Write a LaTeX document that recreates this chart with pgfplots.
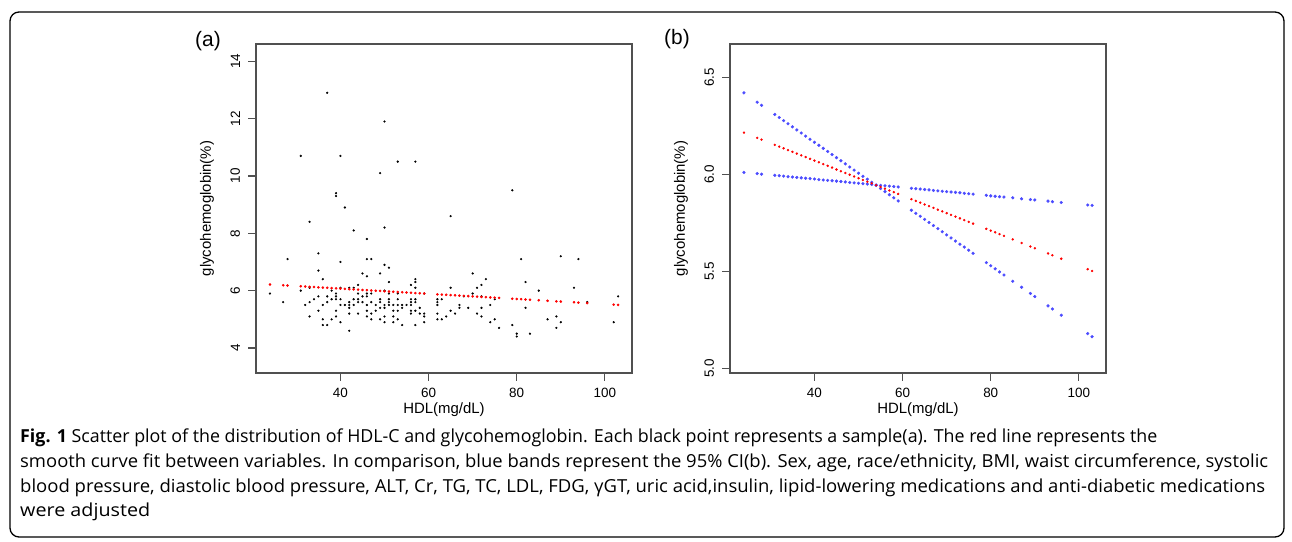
\documentclass[border=0pt]{standalone}
\usepackage{fontspec}
\setmainfont{Liberation Sans}
\newfontfamily\capfont{Open Sans}
\usepackage{graphicx}
\usepackage{pgfplots}
\pgfplotsset{compat=1.18}
\usepackage{pgfplotstable}

\definecolor{cibl}{RGB}{75,75,255}
\definecolor{axgray}{RGB}{80,80,80}

% HDL vs glycohemoglobin, one row per sample (panel a)
\pgfplotstableread{
x y
24 5.9
27 5.6
28 7.1
31 10.7
31 6.0
32 5.5
33 8.4
33 6.1
33 5.6
33 5.1
34 5.7
35 7.3
35 6.7
35 5.8
35 5.3
36 6.4
36 5.5
36 5.0
36 4.8
37 12.9
37 5.8
37 5.6
37 4.8
38 6.0
38 5.7
38 5.0
39 9.4
39 9.3
39 5.9
39 5.8
39 5.7
39 5.3
39 5.1
40 10.7
40 7.0
40 6.1
40 5.7
40 5.5
40 4.9
41 8.9
41 5.5
42 6.1
42 5.6
42 5.5
42 5.4
42 5.2
42 4.6
43 8.1
43 6.1
43 5.7
43 5.5
44 6.2
44 5.9
44 5.7
44 5.6
44 5.2
45 6.6
45 5.8
45 5.6
46 7.8
46 7.1
46 6.5
46 5.9
46 5.8
46 5.5
46 5.3
46 5.1
47 7.1
47 5.9
47 5.6
47 5.2
47 5.0
48 5.5
48 5.3
49 10.1
49 6.6
49 5.7
49 5.6
49 5.4
49 5.0
50 11.9
50 8.2
50 6.9
50 6.0
50 5.5
50 5.4
50 5.1
50 4.9
51 6.8
51 6.3
51 5.9
51 5.7
51 5.6
51 5.5
52 5.5
52 5.3
52 5.1
52 4.9
53 10.5
53 5.9
53 5.7
53 5.5
53 5.3
53 5.0
54 5.5
54 5.4
54 4.8
55 5.5
56 6.2
56 5.7
56 5.6
56 5.5
56 5.3
56 5.2
57 10.5
57 6.4
57 6.3
57 6.1
57 5.7
57 5.6
57 5.3
57 4.8
58 5.4
58 5.2
59 5.9
59 5.2
59 5.1
59 4.9
62 5.7
62 5.6
62 5.5
62 5.2
62 5.0
63 5.7
63 5.0
64 5.1
65 8.6
65 6.1
65 5.3
66 5.2
67 5.5
67 5.4
68 5.8
69 5.4
70 6.6
70 5.9
71 6.1
71 5.2
72 6.2
72 5.8
72 5.4
72 5.1
73 6.4
74 5.5
74 4.9
75 5.7
75 5.0
76 4.7
79 9.5
79 4.8
80 4.5
80 4.4
81 7.1
82 6.3
82 5.4
83 4.5
85 6.0
87 5.0
89 5.1
89 4.7
90 7.2
90 4.9
93 6.1
94 7.1
96 5.6
102 4.9
103 5.8
}\scatterdata

% smooth fit and 95% CI bounds at each observed HDL value
\pgfplotstableread{
x fit upper lower
24 6.215 6.420 6.010
27 6.188 6.372 6.004
28 6.179 6.356 6.001
31 6.152 6.309 5.995
32 6.143 6.293 5.993
33 6.134 6.277 5.991
34 6.125 6.261 5.988
35 6.116 6.245 5.986
36 6.107 6.229 5.984
37 6.098 6.213 5.982
38 6.089 6.197 5.980
39 6.080 6.181 5.978
40 6.071 6.165 5.976
41 6.062 6.150 5.973
42 6.053 6.134 5.971
43 6.044 6.118 5.969
44 6.035 6.102 5.967
45 6.025 6.086 5.965
46 6.016 6.070 5.963
47 6.007 6.054 5.961
48 5.998 6.038 5.958
49 5.989 6.022 5.956
50 5.980 6.006 5.954
51 5.971 5.990 5.952
52 5.962 5.975 5.950
53 5.953 5.959 5.948
54 5.944 5.943 5.945
55 5.935 5.927 5.943
56 5.926 5.911 5.941
57 5.917 5.895 5.939
58 5.908 5.879 5.937
59 5.899 5.863 5.935
62 5.872 5.815 5.928
63 5.863 5.799 5.926
64 5.854 5.784 5.924
65 5.845 5.768 5.922
66 5.836 5.752 5.920
67 5.827 5.736 5.917
68 5.818 5.720 5.915
69 5.809 5.704 5.913
70 5.800 5.688 5.911
71 5.791 5.672 5.909
72 5.782 5.656 5.907
73 5.773 5.640 5.905
74 5.764 5.625 5.902
75 5.755 5.609 5.900
76 5.746 5.593 5.898
79 5.719 5.545 5.892
80 5.710 5.529 5.889
81 5.701 5.513 5.887
82 5.692 5.497 5.885
83 5.683 5.481 5.883
85 5.665 5.449 5.879
87 5.646 5.418 5.874
89 5.628 5.386 5.870
90 5.619 5.370 5.868
93 5.592 5.322 5.862
94 5.583 5.306 5.859
96 5.565 5.274 5.855
102 5.511 5.179 5.842
103 5.502 5.163 5.840
}\fitdata

\pgfplotsset{
  hdlaxis/.style={
    scale only axis, width=376bp, height=329bp,
    xmin=20.84, xmax=106.16,
    xtick={40,60,80,100},
    axis line style={axgray, line width=1.1bp},
    every tick/.style={axgray, line width=1.1bp},
    tick align=outside, major tick length=7.7bp,
    xtick pos=bottom, ytick pos=left,
    /pgf/number format/assume math mode=true,
    tick label style={font=\fontsize{13.5}{15}\selectfont},
    label style={font=\fontsize{15}{18}\selectfont},
    yticklabel style={rotate=90, anchor=south, inner ysep=8bp},
    xticklabel style={anchor=north, inner ysep=7bp},
    xlabel={HDL(mg/dL)},
    ylabel={glycohemoglobin(\%)},
    xlabel style={at={(axis description cs:0.5,-0.112)}, anchor=center},
    ylabel style={at={(axis description cs:-0.13,0.5)}, anchor=center},
  },
}

\begin{document}
\begin{tikzpicture}[x=1bp, y=1bp]
\path[use as bounding box] (0,0) rectangle (1292,542);
\draw[line width=1.3bp, rounded corners=9bp] (10,5) rectangle (1284,530);

\begin{axis}[hdlaxis, at={(256bp,169bp)}, anchor=south west,
    ymin=3.128, ymax=14.603, ytick={4,6,8,10,12,14}]
\addplot[only marks, mark=*, mark size=0.9bp, black] table[x=x, y=y] {\scatterdata};
\addplot[only marks, mark=*, mark size=1.1bp, red] table[x=x, y=fit] {\fitdata};
\end{axis}

\begin{axis}[hdlaxis, at={(730bp,169bp)}, anchor=south west,
    ymin=4.976, ymax=6.672, ytick={5.0,5.5,6.0,6.5},
    yticklabel style={/pgf/number format/.cd, fixed, fixed zerofill, precision=1}]
\addplot[only marks, mark=*, mark size=1.4bp, cibl] table[x=x, y=upper] {\fitdata};
\addplot[only marks, mark=*, mark size=1.4bp, cibl] table[x=x, y=lower] {\fitdata};
\addplot[only marks, mark=*, mark size=1.0bp, red] table[x=x, y=fit] {\fitdata};
\end{axis}

\node[font=\fontsize{21}{24}\selectfont] at (208,501) {(a)};
\node[font=\fontsize{21}{24}\selectfont] at (677,503) {(b)};

\begin{scope}[every node/.style={anchor=base west, inner sep=0pt, font=\capfont\fontsize{18}{20}\selectfont}]
\node at (20,99) {\resizebox{1137bp}{\height}{\textbf{Fig. 1} Scatter plot of the distribution of HDL-C and glycohemoglobin. Each black point represents a sample(a). The red line represents the}};
\node at (20,74) {\resizebox{1248bp}{\height}{smooth curve fit between variables. In comparison, blue bands represent the 95\% CI(b). Sex, age, race/ethnicity, BMI, waist circumference, systolic}};
\node at (20,49) {\resizebox{1245bp}{\height}{blood pressure, diastolic blood pressure, ALT, Cr, TG, TC, LDL, FDG, γGT, uric acid,insulin, lipid-lowering medications and anti-diabetic medications}};
\node at (20,25) {\resizebox{130bp}{\height}{were adjusted}};
\end{scope}
\end{tikzpicture}
\end{document}
